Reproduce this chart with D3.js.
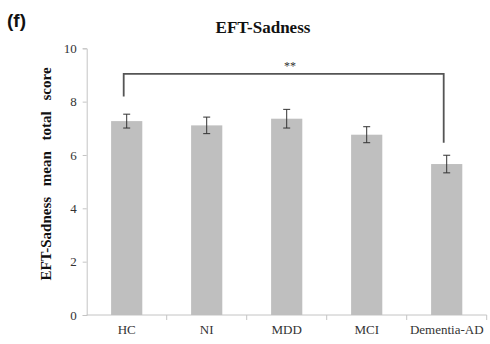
<!DOCTYPE html>
<html>
<head>
<meta charset="utf-8">
<script src="https://cdn.jsdelivr.net/npm/d3@7"></script>
<style>
  html, body { margin: 0; padding: 0; background: #fff; }
</style>
</head>
<body>
<div id="chart"></div>
<script>
const groups = ['HC', 'NI', 'MDD', 'MCI', 'Dementia-AD'];
const means = [7.27, 7.11, 7.36, 6.76, 5.66];
const errors = [0.26, 0.31, 0.35, 0.30, 0.33];
const yTicks = [0, 2, 4, 6, 8, 10];
// significance bracket: from group, to group, bracket level, left/right drop ends
const sig = { from: 'HC', to: 'Dementia-AD', level: 9.04, leftEnd: 8.19, rightEnd: 6.46, label: '**' };

const W = 490, H = 344;
const M = { top: 48.3, right: 3.3, bottom: 29, left: 86.7 };
const serif = '"Liberation Serif", "Times New Roman", serif';

const svg = d3.select('#chart').append('svg')
  .attr('width', W).attr('height', H)
  .style('display', 'block');

const x = d3.scaleBand()
  .domain(groups)
  .range([M.left, W - M.right])
  .paddingInner(0.61)
  .paddingOuter(0.305);

const y = d3.scaleLinear()
  .domain([0, 10])
  .range([H - M.bottom, M.top]);

// panel letter + title
svg.append('text')
  .attr('x', 7).attr('y', 27)
  .attr('font-family', 'Arial, "Liberation Sans", sans-serif')
  .attr('font-weight', 'bold').attr('font-size', 19)
  .attr('fill', '#111')
  .text('(f)');

svg.append('text')
  .attr('x', 263).attr('y', 33)
  .attr('text-anchor', 'middle')
  .attr('font-family', serif)
  .attr('font-weight', 'bold').attr('font-size', 17)
  .attr('fill', '#111')
  .text('EFT-Sadness');

// y axis
const yAxis = svg.append('g')
  .attr('transform', `translate(${M.left},0)`)
  .call(d3.axisLeft(y).tickValues(yTicks).tickSize(4).tickPadding(6));
yAxis.select('.domain').attr('stroke', '#c4c4c4');
yAxis.selectAll('.tick line').attr('stroke', '#c4c4c4');
yAxis.selectAll('.tick text')
  .attr('font-family', serif).attr('font-size', 13).attr('fill', '#333');

// x axis (ticks between categories)
const xAxisG = svg.append('g')
  .attr('transform', `translate(0,${y(0)})`);
xAxisG.append('line')
  .attr('x1', M.left).attr('x2', W - M.right)
  .attr('y1', 0).attr('y2', 0)
  .attr('stroke', '#c4c4c4');
const step = x.step();
const bounds = groups.map(g => x(g) + x.bandwidth() / 2 + step / 2);
xAxisG.selectAll('line.tk').data(bounds).enter().append('line')
  .attr('class', 'tk')
  .attr('x1', d => d).attr('x2', d => d)
  .attr('y1', 0).attr('y2', 5)
  .attr('stroke', '#c4c4c4');
xAxisG.selectAll('text').data(groups).enter().append('text')
  .attr('x', d => x(d) + x.bandwidth() / 2)
  .attr('y', 19)
  .attr('text-anchor', 'middle')
  .attr('font-family', serif).attr('font-size', 13).attr('fill', '#333')
  .text(d => d);

// y label
svg.append('text')
  .attr('transform', `translate(51,174) rotate(-90)`)
  .attr('text-anchor', 'middle')
  .attr('font-family', serif)
  .attr('font-weight', 'bold').attr('font-size', 15)
  .attr('word-spacing', 7)
  .attr('fill', '#111')
  .text('EFT-Sadness mean total score');

// bars
svg.selectAll('rect.bar').data(groups).enter().append('rect')
  .attr('class', 'bar')
  .attr('x', d => x(d))
  .attr('width', x.bandwidth())
  .attr('y', (d, i) => y(means[i]))
  .attr('height', (d, i) => y(0) - y(means[i]))
  .attr('fill', '#bfbfbf');

// error bars
const cap = 3.5;
const cx = d => x(d) + x.bandwidth() / 2;
const eb = svg.selectAll('g.err').data(groups).enter().append('g')
  .attr('class', 'err')
  .attr('stroke', '#333').attr('stroke-width', 1);
eb.append('line')
  .attr('x1', cx).attr('x2', cx)
  .attr('y1', (d, i) => y(means[i] + errors[i])).attr('y2', (d, i) => y(means[i] - errors[i]));
eb.append('line')
  .attr('x1', d => cx(d) - cap).attr('x2', d => cx(d) + cap)
  .attr('y1', (d, i) => y(means[i] + errors[i])).attr('y2', (d, i) => y(means[i] + errors[i]));
eb.append('line')
  .attr('x1', d => cx(d) - cap).attr('x2', d => cx(d) + cap)
  .attr('y1', (d, i) => y(means[i] - errors[i])).attr('y2', (d, i) => y(means[i] - errors[i]));

// significance bracket
const bx0 = cx(sig.from) - 3;
const bx1 = cx(sig.to) - 3;
svg.append('path')
  .attr('d', `M${bx0},${y(sig.leftEnd)} V${y(sig.level)} H${bx1} V${y(sig.rightEnd)}`)
  .attr('fill', 'none')
  .attr('stroke', '#555').attr('stroke-width', 1.8);
svg.append('text')
  .attr('x', 290).attr('y', y(sig.level) - 4)
  .attr('text-anchor', 'middle')
  .attr('font-family', serif).attr('font-size', 12).attr('fill', '#333')
  .text(sig.label);
</script>
</body>
</html>
